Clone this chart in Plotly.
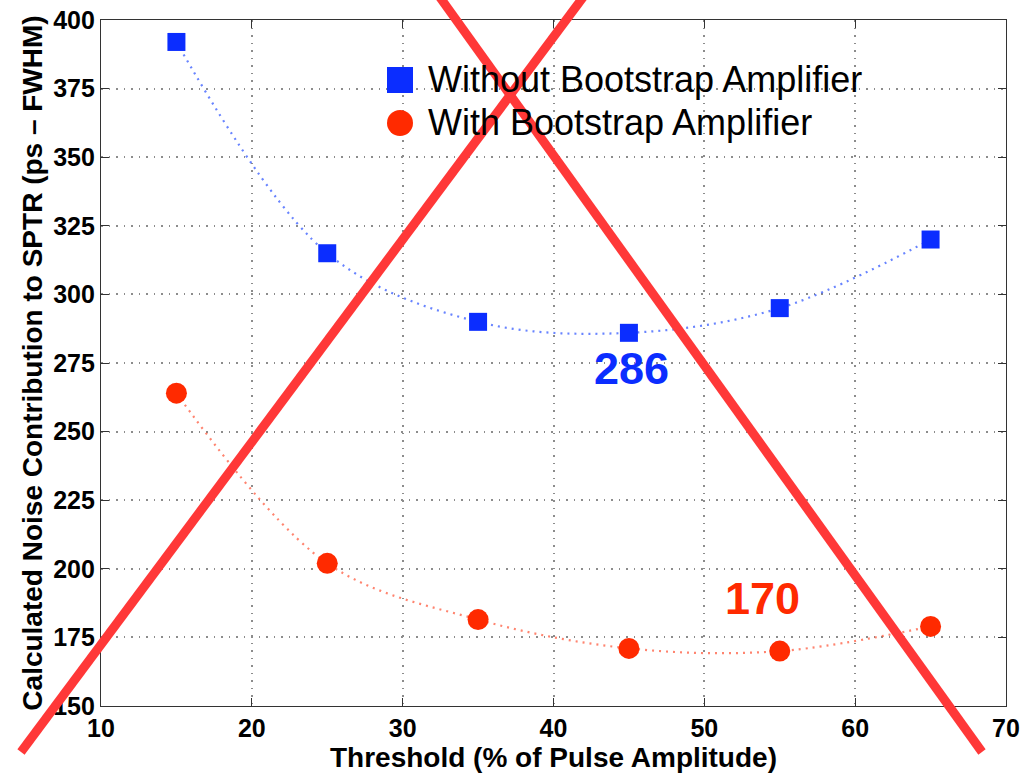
import plotly.graph_objects as go

# Threshold levels (% of pulse amplitude)
threshold = [15, 25, 35, 45, 55, 65]
# Calculated noise contribution to SPTR (ps FWHM)
without_bootstrap = [392, 315, 290, 286, 295, 320]
with_bootstrap = [264, 202, 181.5, 171, 170, 179]

x_ticks = [10, 20, 30, 40, 50, 60, 70]
y_ticks = [150, 175, 200, 225, 250, 275, 300, 325, 350, 375, 400]

min_without = (45, 286)
min_with = (55, 170)

BLUE = "#0b2dff"
RED = "#ff2a00"
CROSS = "#ff3838"
FONT = "Liberation Sans"

W, H = 1022, 774
ML, MR, MT, MB = 101, 16, 20, 68
PW, PH = W - ML - MR, H - MT - MB


def px(x):
    return (x - ML) / PW


def py(y):
    return (H - MB - y) / PH


fig = go.Figure()

fig.add_trace(go.Scatter(
    x=threshold, y=without_bootstrap, mode="lines",
    line=dict(color="rgba(40,80,255,0.7)", width=2.2, dash="2px,5px", shape="spline", smoothing=1.0),
    hoverinfo="skip", showlegend=False,
))
fig.add_trace(go.Scatter(
    x=threshold, y=with_bootstrap, mode="lines",
    line=dict(color="rgba(255,80,50,0.7)", width=2.2, dash="2px,5px", shape="spline", smoothing=1.0),
    hoverinfo="skip", showlegend=False,
))
fig.add_trace(go.Scatter(
    x=threshold, y=without_bootstrap, mode="markers",
    name="Without Bootstrap Amplifier",
    marker=dict(symbol="square", size=18, color=BLUE),
    showlegend=False,
))
fig.add_trace(go.Scatter(
    x=threshold, y=with_bootstrap, mode="markers",
    name="With Bootstrap Amplifier",
    marker=dict(symbol="circle", size=21, color=RED),
    showlegend=False,
))

# Minimum value labels
fig.add_annotation(x=min_without[0], y=min_without[1], text=f"<b>{min_without[1]}</b>",
                   showarrow=False, xshift=3, yshift=-36,
                   font=dict(family=FONT, size=45, color=BLUE))
fig.add_annotation(x=min_with[0], y=min_with[1], text=f"<b>{min_with[1]}</b>",
                   showarrow=False, xshift=-17, yshift=53,
                   font=dict(family=FONT, size=45, color=RED))

# Legend drawn as symbols plus text
legend_items = [("Without Bootstrap Amplifier", "rect", BLUE, 80),
                ("With Bootstrap Amplifier", "circle", RED, 123)]
for label, kind, color, ypix in legend_items:
    half = 13
    fig.add_shape(type=kind, xref="paper", yref="paper",
                  xsizemode="pixel", ysizemode="pixel",
                  xanchor=px(400), yanchor=py(ypix),
                  x0=-half, x1=half, y0=-half, y1=half,
                  fillcolor=color, line=dict(width=0))
    fig.add_annotation(x=px(426), y=py(ypix), xref="paper", yref="paper",
                       text=label, showarrow=False, xanchor="left", yanchor="middle",
                       font=dict(family=FONT, size=36, color="black"))

# Red cross over the figure
for (xa, ya), (xb, yb) in [((21, 752), (584, -4)), ((439, -4), (982, 752))]:
    fig.add_shape(type="line", xref="paper", yref="paper",
                  x0=px(xa), y0=py(ya), x1=px(xb), y1=py(yb),
                  line=dict(color=CROSS, width=9), layer="above")

axis_common = dict(
    showline=True, linecolor="#333333", linewidth=1.2, mirror="ticks",
    ticks="inside", ticklen=8, tickcolor="#333333", tickwidth=1.2,
    showgrid=True, gridcolor="#8c8c8c", griddash="1.5px,6px", gridwidth=1.5,
    zeroline=False,
    tickfont=dict(family=FONT, size=25, color="black", weight="bold"),
)

fig.update_xaxes(range=[10, 70], tickvals=x_ticks, ticktext=[str(v) for v in x_ticks],
                 title=dict(text="<b>Threshold (% of Pulse Amplitude)</b>",
                            font=dict(family=FONT, size=28, color="black"), standoff=0),
                 **axis_common)
fig.update_yaxes(range=[150, 400], tickvals=y_ticks, ticktext=[str(v) for v in y_ticks],
                 title=dict(text="<b>Calculated Noise Contribution to SPTR (ps – FWHM)</b>",
                            font=dict(family=FONT, size=28, color="black"), standoff=2),
                 **axis_common)

fig.update_layout(
    width=W, height=H,
    margin=dict(l=ML, r=MR, t=MT, b=MB, autoexpand=False),
    plot_bgcolor="white", paper_bgcolor="white",
    showlegend=False,
)

fig.write_html("out.html")
